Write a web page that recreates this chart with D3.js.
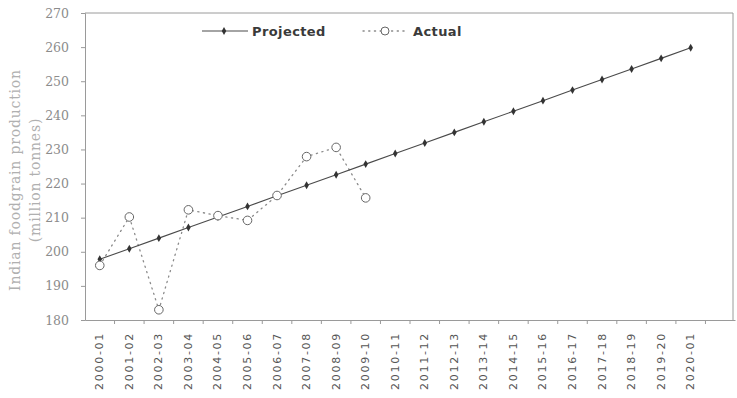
<!DOCTYPE html>
<html>
<head>
<meta charset="utf-8">
<script src="https://cdn.jsdelivr.net/npm/d3@7"></script>
<style>
  html, body { margin: 0; padding: 0; background: #fff; }
  svg { display: block; }
</style>
</head>
<body>
<svg id="chart" width="737" height="398"></svg>
<script>
const categories = ["2000-01","2001-02","2002-03","2003-04","2004-05","2005-06","2006-07","2007-08","2008-09","2009-10","2010-11","2011-12","2012-13","2013-14","2014-15","2015-16","2016-17","2017-18","2018-19","2019-20","2020-01"];
const projected = [197.8, 200.9, 204.0, 207.1, 210.2, 213.3, 216.4, 219.5, 222.6, 225.7, 228.8, 231.9, 235.0, 238.1, 241.2, 244.3, 247.4, 250.5, 253.6, 256.7, 259.8];
const actual = [196.0, 210.2, 183.0, 212.3, 210.6, 209.2, 216.5, 227.9, 230.6, 215.8];
const yTicks = [180, 190, 200, 210, 220, 230, 240, 250, 260, 270];

const svg = d3.select("#chart");
const mLeft = 85, mRight = 735, mTop = 13, mBottom = 320;

// 22 slots: 21 categories plus one empty slot on the right
const slots = categories.concat([" "]);
const x = d3.scaleBand().domain(slots).range([mLeft, mRight]).paddingInner(0).paddingOuter(0);
const y = d3.scaleLinear().domain([180, 270]).range([mBottom, mTop]);
const cx = c => x(c) + x.bandwidth() / 2;

// plot-area border (top, right)
svg.append("path")
  .attr("d", `M${mLeft},${mTop}H${mRight - 2}V${mBottom}`)
  .attr("fill", "none").attr("stroke", "#9a9a9a").attr("stroke-width", 1);

// Y axis
const yAxis = svg.append("g").attr("transform", `translate(${mLeft},0)`)
  .call(d3.axisLeft(y).tickValues(yTicks).tickSize(4).tickPadding(12).tickFormat(d3.format("d")));
yAxis.select(".domain").attr("stroke", "#9a9a9a");
yAxis.selectAll(".tick line").attr("stroke", "#9a9a9a");
yAxis.selectAll(".tick text")
  .attr("fill", "#8c8c8c").attr("font-family", "DejaVu Serif, serif").attr("font-size", 12.5);

// X axis
const xAxis = svg.append("g").attr("transform", `translate(0,${mBottom})`)
  .call(d3.axisBottom(x).tickSize(0).tickPadding(0));
xAxis.select(".domain").attr("stroke", "#9a9a9a");
xAxis.selectAll(".tick text")
  .attr("fill", "#555").attr("font-family", "DejaVu Sans, sans-serif").attr("font-size", 11)
  .attr("letter-spacing", 1.7)
  .attr("transform", "rotate(-90)")
  .attr("text-anchor", "end").attr("dominant-baseline", "central")
  .attr("x", -12).attr("y", 0).attr("dy", null);
// boundary ticks between categories
xAxis.selectAll(".bt").data(slots.slice(1)).enter().append("line")
  .attr("class", "bt")
  .attr("x1", d => x(d)).attr("x2", d => x(d))
  .attr("y1", 0).attr("y2", 4).attr("stroke", "#9a9a9a");

// Y title
const yt = svg.append("text")
  .attr("transform", `translate(15,180) rotate(-90)`)
  .attr("text-anchor", "middle").attr("dominant-baseline", "central")
  .attr("font-family", "DejaVu Serif, serif").attr("font-size", 14)
  .attr("fill", "#b0b0b0").attr("letter-spacing", 0.8);
yt.append("tspan").attr("x", 0).attr("dy", 0).text("Indian foodgrain production");
yt.append("tspan").attr("x", 0).attr("dy", 20).text("(million tonnes)");

// Actual dotted line
const actData = actual.map((v, i) => ({c: categories[i], v}));
const projData = projected.map((v, i) => ({c: categories[i], v}));
const line = d3.line().x(d => cx(d.c)).y(d => y(d.v));

svg.append("path").datum(actData).attr("d", line)
  .attr("fill", "none").attr("stroke", "#8a8a8a").attr("stroke-width", 1.3)
  .attr("stroke-dasharray", "1.2,4.5").attr("stroke-linecap", "round");

// Projected line
svg.append("path").datum(projData).attr("d", line)
  .attr("fill", "none").attr("stroke", "#4a4a4a").attr("stroke-width", 1.1);
const diamond = d3.symbol().type(d3.symbolDiamond).size(18);
svg.selectAll(".pm").data(projData).enter().append("path")
  .attr("class", "pm")
  .attr("transform", d => `translate(${cx(d.c)},${y(d.v)})`)
  .attr("d", diamond).attr("fill", "#333");

// Actual circles
svg.selectAll(".am").data(actData).enter().append("circle")
  .attr("class", "am")
  .attr("cx", d => cx(d.c)).attr("cy", d => y(d.v)).attr("r", 4.3)
  .attr("fill", "#fff").attr("stroke", "#666").attr("stroke-width", 1);

// Legend
const lg = svg.append("g");
lg.append("line").attr("x1", 202).attr("x2", 248).attr("y1", 31).attr("y2", 31)
  .attr("stroke", "#4a4a4a").attr("stroke-width", 1.1);
lg.append("path").attr("transform", "translate(224,31)").attr("d", diamond).attr("fill", "#333");
lg.append("text").attr("x", 252).attr("y", 31).attr("dominant-baseline", "central")
  .attr("font-family", "DejaVu Sans, sans-serif").attr("font-weight", "bold").attr("font-size", 13)
  .attr("fill", "#3a3a3a").attr("letter-spacing", 0.4).text("Projected");
lg.append("line").attr("x1", 363).attr("x2", 408).attr("y1", 31).attr("y2", 31)
  .attr("stroke", "#8a8a8a").attr("stroke-width", 1.3)
  .attr("stroke-dasharray", "1.2,4.5").attr("stroke-linecap", "round");
lg.append("circle").attr("cx", 385).attr("cy", 31).attr("r", 4)
  .attr("fill", "#fff").attr("stroke", "#666");
lg.append("text").attr("x", 413).attr("y", 31).attr("dominant-baseline", "central")
  .attr("font-family", "DejaVu Sans, sans-serif").attr("font-weight", "bold").attr("font-size", 13)
  .attr("fill", "#3a3a3a").attr("letter-spacing", 0.4).text("Actual");
</script>
</body>
</html>
